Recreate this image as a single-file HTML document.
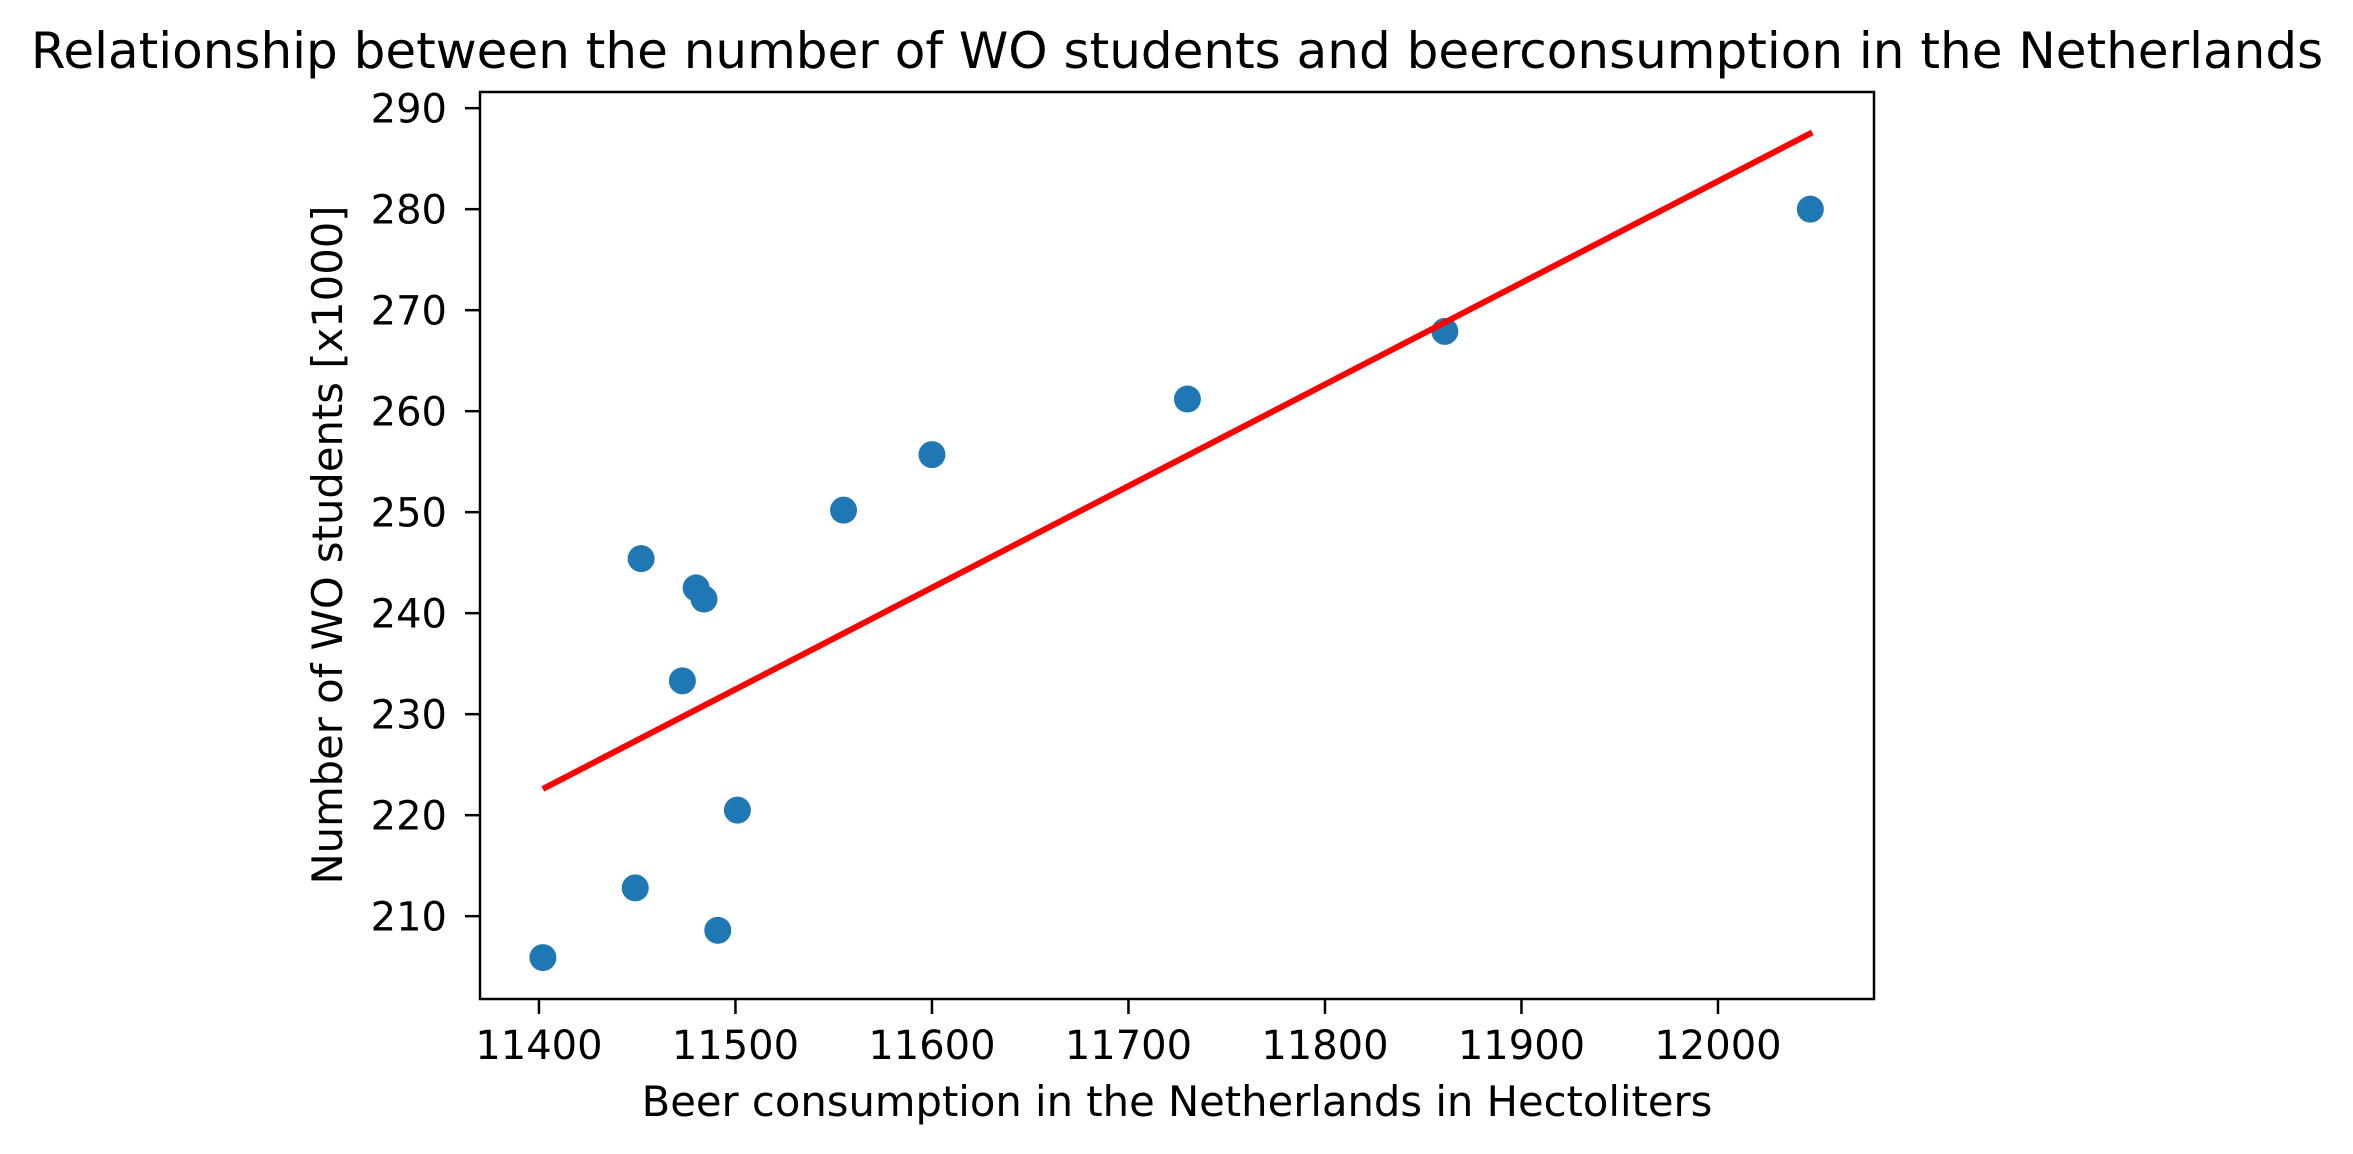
<!DOCTYPE html>
<html><head><meta charset="utf-8"><style>html,body{margin:0;padding:0;background:#fff}svg{display:block}text{font-family:"DejaVu Sans","Liberation Sans",sans-serif;fill:#000}</style></head>
<body>
<svg id="chart" width="2353" height="1154" viewBox="0 0 2353 1154" xmlns="http://www.w3.org/2000/svg">
<text x="1177" y="68" font-size="50" text-anchor="middle">Relationship between the number of WO students and beerconsumption in the Netherlands</text>
<g id="plot"></g>
<text x="1177" y="1116" font-size="41.7" text-anchor="middle">Beer consumption in the Netherlands in Hectoliters</text>
<text transform="translate(342,545) rotate(-90)" font-size="41.7" text-anchor="middle">Number of WO students [x1000]</text>
</svg>
<script>
const beerValues = [11402, 11449, 11452, 11473, 11480, 11484, 11491, 11501, 11555, 11600, 11730, 11861, 12047];
const studentValues = [205.9, 212.8, 245.4, 233.3, 242.5, 241.4, 208.6, 220.5, 250.2, 255.7, 261.2, 267.9, 280.0];
const fitX = [11402, 12048];
const fitY = [222.6, 287.6];
const xTicks = [11400, 11500, 11600, 11700, 11800, 11900, 12000];
const yTicks = [210, 220, 230, 240, 250, 260, 270, 280, 290];

const L = 480, R = 1874, T = 92, B = 999;
const xMin = 11370, xMax = 12079.4, yMin = 201.8, yMax = 291.6;
const sx = v => L + (v - xMin) / (xMax - xMin) * (R - L);
const sy = v => B - (v - yMin) / (yMax - yMin) * (B - T);
const NS = 'http://www.w3.org/2000/svg';
const g = document.getElementById('plot');
function mk(tag, attrs) { const e = document.createElementNS(NS, tag); for (const k in attrs) e.setAttribute(k, attrs[k]); g.appendChild(e); return e; }

xTicks.forEach(t => {
  const x = sx(t);
  const tk = mk('line', {x1: x, x2: x, y1: B, y2: B + 15, stroke: '#000', 'stroke-width': 2.5});
  
  
  const lb = mk('text', {x: x, y: 1059, 'font-size': 40, 'text-anchor': 'middle'});
  lb.textContent = t;
  
  
});
yTicks.forEach(t => {
  const y = sy(t);
  const tk = mk('line', {x1: L - 15, x2: L, y1: y, y2: y, stroke: '#000', 'stroke-width': 2.5});
  
  
  const lb = mk('text', {x: 447, y: y + 14.5, 'font-size': 40, 'text-anchor': 'end'});
  lb.textContent = t;
  
  
});
beerValues.forEach((v, i) => {
  const c = mk('circle', {cx: sx(v), cy: sy(studentValues[i]), r: 13.5, fill: '#1f77b4'});
  
  
});
const fl = mk('line', {x1: sx(fitX[0]), y1: sy(fitY[0]), x2: sx(fitX[1]), y2: sy(fitY[1]), stroke: '#ff0000', 'stroke-width': 6});


const fr = mk('rect', {x: L, y: T, width: R - L, height: B - T, fill: 'none', stroke: '#000', 'stroke-width': 2.5});


</script>
</body></html>
